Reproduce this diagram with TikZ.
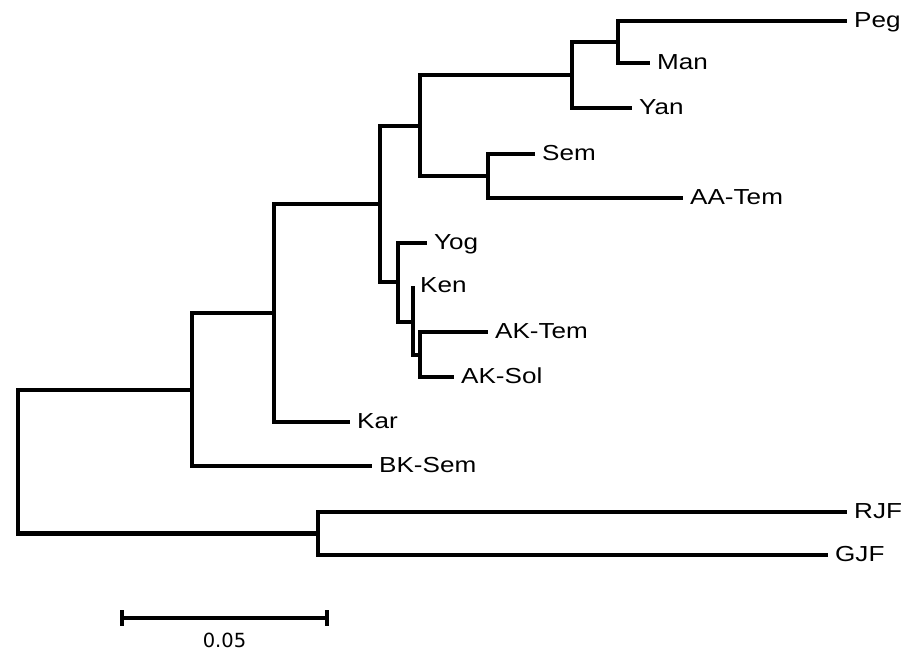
\documentclass[tikz,border=0pt]{standalone}
\usepackage{fontspec}
\setmainfont{Liberation Sans}
\newfontfamily\leaffont[FakeStretch=1.2]{Liberation Sans}
\newfontfamily\barfont{DejaVu Sans}
\begin{document}
\begin{tikzpicture}[x=0.75pt, y=-0.75pt,
        branch/.style={line width=3.6pt, line join=miter},
        scalebar/.style={line width=3pt},
        taxon/.style={anchor=base west, inner sep=0pt, xshift=5.2pt, yshift=-5pt,
            font=\leaffont\fontsize{16.3}{18}\selectfont}]
        \useasboundingbox (0, 0) rectangle (914, 659);

        % internal nodes
        \coordinate (r0) at (18, 461.5);
        \coordinate (n1) at (192, 390);
        \coordinate (n2) at (274, 313);
        \coordinate (n3) at (380, 204);
        \coordinate (n4) at (420, 126);
        \coordinate (n5) at (572, 75);
        \coordinate (n6) at (618, 42);
        \coordinate (n7) at (488, 176);
        \coordinate (n8) at (398, 282);
        \coordinate (n9) at (413, 322);
        \coordinate (n10) at (420, 355);
        \coordinate (n11) at (318, 533.5);

        % tips
        \coordinate (peg) at (847, 21);
        \coordinate (man) at (650, 63);
        \coordinate (yan) at (632, 108);
        \coordinate (sem) at (535, 154);
        \coordinate (aatem) at (683, 198);
        \coordinate (yog) at (427, 243);
        \coordinate (ken) at (413, 286);
        \coordinate (aktem) at (488, 332);
        \coordinate (aksol) at (454, 377);
        \coordinate (kar) at (350, 422);
        \coordinate (bksem) at (372, 466);
        \coordinate (rjf) at (847, 512);
        \coordinate (gjf) at (828, 555);

        \foreach \a/\b in {r0/n1, r0/n11, n1/n2, n1/bksem, n2/n3, n2/kar,
                n3/n4, n3/n8, n4/n5, n4/n7, n5/n6, n5/yan, n6/peg, n6/man,
                n7/sem, n7/aatem, n8/yog, n8/n9, n9/ken, n9/n10,
                n10/aktem, n10/aksol, n11/rjf, n11/gjf}
            {\draw [branch] (\a) |- (\b);}

        \foreach \t/\s in {peg/Peg, man/Man, yan/Yan, sem/Sem, aatem/AA-Tem,
                yog/Yog, ken/Ken, aktem/AK-Tem, aksol/AK-Sol, kar/Kar,
                bksem/BK-Sem, rjf/RJF, gjf/GJF}
            {\node (\t-lab) at (\t) [taxon] {\s};}

        % scale bar
        \coordinate (barl) at (122, 618);
        \coordinate (barr) at (327, 618);
        \draw [scalebar] (barl) -- (barr);
        \draw [scalebar] ([yshift=6pt]barl) -- ([yshift=-6pt]barl);
        \draw [scalebar] ([yshift=6pt]barr) -- ([yshift=-6pt]barr);
        \node (barlab) at (224.5, 647) [anchor=base, inner sep=0pt,
            font=\barfont\fontsize{14.6}{16}\selectfont] {0.05};
    \end{tikzpicture}
\end{document}
